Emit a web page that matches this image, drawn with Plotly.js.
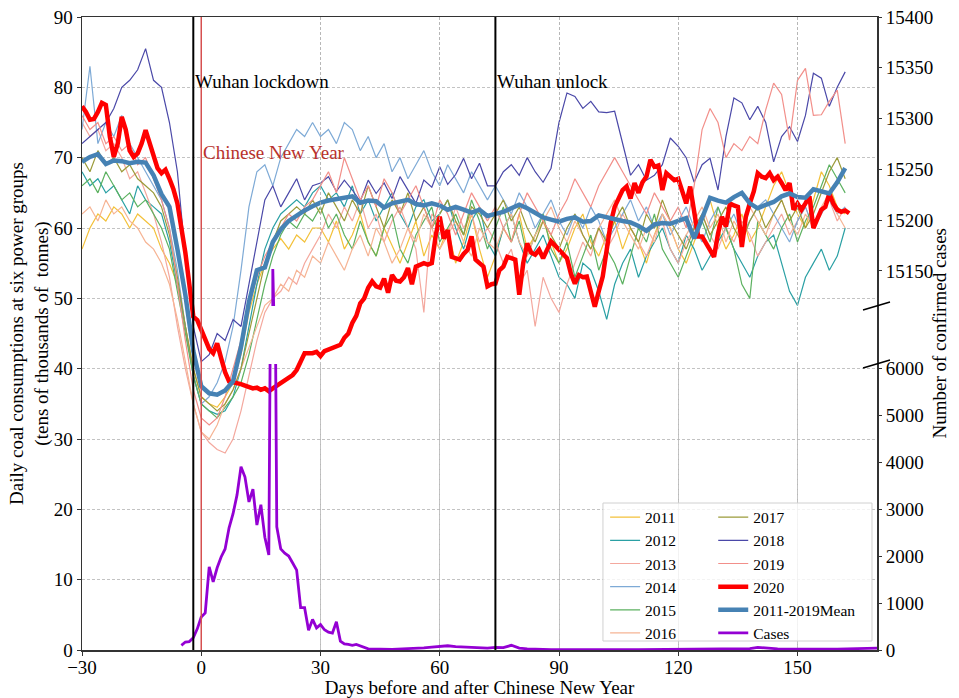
<!DOCTYPE html>
<html>
<head>
<meta charset="utf-8">
<script src="https://cdn.plot.ly/plotly-3.0.1.min.js"></script>
<style>html,body{margin:0;padding:0;background:#fff;}#chart{width:959px;height:698px;}</style>
</head>
<body>
<div id="chart"></div>
<script>
// ---------- DATA ----------
// x positions (days before/after Chinese New Year)
function range(a, b, s) { const r = []; for (let v = a; v <= b; v += s) r.push(v); return r; }
const yearDays = range(-30, 162, 2);
const days2020 = range(-30, 163, 1);

const y2011 = [57,60,62,61,63,62,60,62,61,60,57,55,52,46,40,
  36,35,34.5,36,38,42,48,52,55,57,58.5,57,59,58,60,
  60,58,61,57,59,62,58,56,60,57.5,55,58,61,56,59,57,60,55,58,62,57,53,
  56,60,58,62,57,59,61,58,55,57,60,62,58,56,59,61,57,60,58,55,59,62,60,57,55,58,61,64,60,57,59,62,58,60,63,66,68,65,62,60,64,68,66,63,62];
const y2012 = [68,66,67,65,66,64,62,66,64,63,62,58,52,46,39,
  35,34,33.5,34,36,40,46,52,57,60,62,63,64,63,65,
  66,64,65,63,66,62,64,61,63,65,62,60,63,64,61,62,64,60,57,61,63,58,
  56,60,62,58,55,57,59,56,53,52,50,55,54,51,47,52,55,57,53,56,58,60,57,55,59,57,54,56,58,60,57,55,53,56,58,59,55,51,49,53,55,57,54,56,60];
const y2013 = [75,73,74,71,72,70,67,68,65,62,58,53,46,40,35,
  31,29.5,28.5,28,30,34,39,44,48,50,51,53,52,55,57,
  59,62,60,63,61,64,60,62,58,61,63,60,57,48,62,61,59,63,60,62,58,60,
  58,55,57,52,54,46,53,50,48,52,55,58,56,60,57,59,62,60,58,56,59,61,57,55,58,60,62,59,57,60,58,61,59,56,58,60,62,59,61,63,60,62,64,61,63];
const y2014 = [74,83,72,75,73,76,72,70,68,66,64,60,54,46,39,
  35,36,38,41,46,54,63,68,69,66,70,72,74,73,75,
  73,74,72,75,74,71,73,70,72,68,70,67,69,71,68,66,69,67,65,68,66,64,
  66,64,62,65,63,60,62,64,61,59,62,60,63,61,58,60,62,64,61,63,60,62,59,61,63,60,58,61,63,60,62,59,61,63,64,62,60,58,61,63,60,62,64,62,63];
const y2015 = [66,67,65,68,66,64,65,63,64,62,60,57,51,45,39,
  35,34,33,34.5,36,38,42,47,52,56,59,61,60,62,61,
  63,60,62,59,57,61,58,56,60,62,57,55,59,61,63,58,60,62,59,64,61,57,
  60,63,58,61,56,59,62,57,55,58,53,56,59,54,57,55,52,56,60,58,62,57,55,53,56,59,61,58,63,60,57,52,50,61,59,57,60,62,58,61,63,66,69,67,65];
const y2016 = [62,63,61,64,62,63,61,60,58,57,55,52,47,41,35,
  31,30,32,35,37,40,43,46,49,50,52,51,54,53,56,
  55,58,56,54,57,59,56,60,58,55,57,60,58,62,60,57,59,61,58,56,60,58,
  57,60,62,58,56,59,61,63,60,58,61,59,57,60,62,64,61,59,57,60,58,62,60,57,59,61,63,60,62,58,61,59,63,61,59,62,64,61,59,62,60,63,65,62,60];
const y2017 = [70,68,71,69,70,68,69,67,66,65,63,59,53,46,40,
  36,35,34,35,37,40,45,50,55,58,61,62,63,62,64,
  62,65,63,61,64,62,66,63,60,64,62,65,61,63,60,62,64,61,59,63,62,60,
  62,64,61,63,60,58,61,59,57,60,62,59,57,60,58,61,63,60,58,62,60,64,61,59,57,60,62,59,61,63,60,58,61,63,60,62,64,61,63,60,62,65,68,70,67];
const y2018 = [72,73,74,75,77,80,81,82.5,85.5,81,80,75,68,56,46,
  41,42,45,44,47,46,52,58,64,66,63,65,67,64,66,
  66.4,67.3,65.2,66.8,65.4,63.8,66.8,64.9,66.4,64.2,67.3,65.4,63.5,66.8,65.8,68.7,66.2,67.6,69.9,67,69.2,66,
  66,68,69,67.5,70,68,66.5,68.5,75,79.2,78.7,77,78,76.5,76.4,76.6,72,67.5,69,66.8,67.5,69,72.8,71.6,70,66.5,69,69.9,65.4,73,78.5,77.8,75.4,77.3,75,69.4,73,74.4,72.3,76,82,81.3,77.3,80,82.2];
const y2019 = [76,74,75,72,73,71,72,69,70,67,64,60,52,44,37,
  33,32,33,36,40,44,49,53,56,58,60,62,61,63,64,
  66,68,65,70,67,64,66,63,67,65,62,64,66,63,60,64,62,59,62,65,63,61,
  63,60,58,62,65,63,61,59,62,64,67,65,63,66,68,70,68,66,64,62,65,63,61,63,60,66,74,77,75,70,72,71,73,72,76.8,80.6,79,72.5,81,82.7,76,76.1,78,79.6,72];
const yMean = [69.4,70.1,70.5,69.1,69.6,69.5,69.2,69.4,69.3,67.5,64.8,63,57,50.5,42.5,
  37.5,36.5,36.3,36.9,38.2,43.1,49.5,54,54.4,58,59.8,61,61.8,62.5,63.1,
  63.6,63.9,64.1,64.4,64.5,63.6,63.9,63.8,62.9,63.5,63.7,64,63.4,63.2,63.5,63.2,62.6,63,62.6,62.2,62.6,61.7,
  62,62.3,62.8,63.3,62.8,62.2,61.5,61.2,60.9,61.3,61.5,60.9,61,61.8,61.5,61.2,61,60.8,60.3,59.6,60.5,60.7,60.6,61,61.4,58.5,61.5,64.3,63.9,63.6,64.4,65,63.5,62.8,63.3,63.7,64.5,64.9,64.4,64.3,65.5,65.2,64.9,66.5,68.5];
const y2020 = [77.3,76.5,75.4,75.5,76.5,77.8,77.5,73,70.1,72,
  75.8,74,71,70.1,70.6,72,73.9,72,70.1,68.5,
  67.8,68.3,67,65.5,63.5,60.2,56.5,52,47.4,46.9,
  45.5,44.1,42.8,42.2,43.6,41.5,39.5,38.2,38.1,38,
  37.8,37.6,37.4,37.2,37.3,37,37.2,36.8,37.2,37.6,
  38,38.4,38.8,39.1,39.8,41,42.2,42.2,42.2,42.4,
  41.8,42.5,42.7,43,43.2,43.4,44.4,45,46.5,47.5,
  49.3,50,51.5,52.4,51.7,51.5,52.8,50.8,53.3,52.5,
  52.4,53,54.3,52,54.5,54.8,55,54.8,55,59,
  61.6,58.5,59.7,55.9,55.7,55.5,56.3,56.9,58.8,55.5,
  55,54.5,51.7,52,52.1,54,54.5,55.9,55.7,55.5,
  50.5,55,57.8,56.5,56.2,56.9,55.7,57,58.1,57.5,
  56.9,56.3,55.7,53.5,52.1,53.3,53,53.1,51,48.8,
  51,53.1,56.9,60.7,63,64.2,65.4,65.9,64.2,66.4,
  65,66.5,67.3,69.7,68.7,68.9,65.4,67.8,67.2,66.8,
  67,65.4,63.5,65.9,62.6,58.8,58.8,57.8,57,55.9,
  59.2,61.6,60.2,63.5,63.2,63,57.3,61.6,63.5,65.2,
  67.8,67.3,67.1,67.8,66.8,67.3,66.4,65.4,66.4,62.6,
  63.5,62.6,63.5,64.5,60,61.5,62.6,63,64.9,63.5,
  62.6,62.3,62.5,62.1];

// confirmed cases (right axis)
const caseDays = [-5,-4,-3,-2,-1,0,1,2,3,4,5,6,7,8,9,10,11,12,13,14,15,16,17,18,19,20,21,22,23,24,25,26,27,28,29,30,31,32,33,34,35,36,37,38,39,40,41,42,43,44,45,
  48,50,52,54,56,58,60,62,64,66,68,70,72,74,76,78,80,82,85,88,92,96,100,105,110,115,120,125,130,135,138,140,142,145,150,155,160,165,168,170];
const caseCounts = [100,170,180,260,450,700,790,1770,1450,1750,1980,2150,2600,2900,3300,3900,3680,3150,3420,2660,3090,2400,2020,15152,2620,2150,2060,2000,1850,1700,900,900,420,650,470,540,430,380,360,600,190,130,120,100,120,90,50,25,20,15,20,
  15,20,30,40,45,60,80,90,70,60,55,45,40,55,50,100,40,25,15,10,10,5,8,5,5,10,8,10,15,20,30,55,40,25,20,15,20,30,45,40];

const yearNames = ['2011','2012','2013','2014','2015','2016','2017','2018','2019'];
const yearSeries = [y2011,y2012,y2013,y2014,y2015,y2016,y2017,y2018,y2019];
const yearColors = ['#f3c13a','#2aa0a4','#f4a89e','#7eaad6','#5cb160','#f6b494','#9b9b3a','#4a48a8','#f28f8a'];

const events = [
  {day: -2, label: 'Wuhan lockdown', color: '#000000', width: 2, textY: 80.8, textColor: '#000000'},
  {day: 0, label: 'Chinese New Year', color: '#d65050', width: 1.5, textY: 70.7, textColor: '#b8322c'},
  {day: 74, label: 'Wuhan unlock', color: '#000000', width: 2, textY: 80.8, textColor: '#000000'}
];

// ---------- FIGURE ----------
const FONT = 'Liberation Serif, Times New Roman, serif';
const traces = [];
yearSeries.forEach((s, i) => {
  traces.push({x: yearDays, y: s, type: 'scatter', mode: 'lines', name: yearNames[i],
    line: {color: yearColors[i], width: 1.2}, legend: i < 6 ? 'legend' : 'legend2'});
});
traces.push({x: days2020, y: y2020, type: 'scatter', mode: 'lines', name: '2020',
  line: {color: '#ff0000', width: 4.5}, legend: 'legend2'});
traces.push({x: yearDays, y: yMean, type: 'scatter', mode: 'lines', name: '2011-2019Mean',
  line: {color: '#4682b4', width: 4.5}, legend: 'legend2'});
traces.push({x: caseDays, y: caseCounts, type: 'scatter', mode: 'lines', name: 'Cases', yaxis: 'y2',
  line: {color: '#9400d3', width: 2.8}, legend: 'legend2'});
traces.push({x: caseDays, y: caseCounts, type: 'scatter', mode: 'lines', name: 'Cases', yaxis: 'y3',
  line: {color: '#9400d3', width: 2.8}, showlegend: false});

const shapes = events.map(e => ({type: 'line', xref: 'x', yref: 'paper', x0: e.day, x1: e.day, y0: 0, y1: 1,
  line: {color: e.color, width: e.width}}));
// axis break marks
shapes.push({type: 'line', xref: 'paper', yref: 'y3 domain', x0: 1 - 14/795, x1: 1 + 13/795, y0: -4/289, y1: 4/289, line: {color: '#000', width: 1.5}});
shapes.push({type: 'line', xref: 'paper', yref: 'y2 domain', x0: 1 - 14/795, x1: 1 + 13/795, y0: 1 - 4/286, y1: 1 + 4/286, line: {color: '#000', width: 1.5}});
// legend frame
shapes.push({type: 'rect', xref: 'paper', yref: 'paper', x0: 0.6553, x1: 0.9937, y0: 0.0142, y1: 0.2322,
  fillcolor: 'rgba(255,255,255,0.8)', line: {color: '#d0d0d0', width: 1}, layer: 'above'});

const annotations = events.map(e => ({x: e.day, y: e.textY, xref: 'x', yref: 'y', text: e.label, showarrow: false,
  xanchor: 'left', yanchor: 'middle', xshift: 0, font: {family: FONT, size: 19, color: e.textColor}}));
annotations.push({xref: 'paper', yref: 'paper', x: 1.078, y: 0.5, text: 'Number of confirmed cases', textangle: -90,
  showarrow: false, xanchor: 'center', yanchor: 'middle', font: {family: FONT, size: 19, color: '#000'}});

const gridStyle = {showgrid: true, gridcolor: '#b4b4b4', gridwidth: 0.8, griddash: '3px,2px'};
const layout = {
  width: 959, height: 698,
  margin: {l: 82, r: 82, t: 17, b: 48},
  paper_bgcolor: '#ffffff', plot_bgcolor: 'rgba(0,0,0,0)',
  font: {family: FONT, size: 18, color: '#000'},
  showlegend: true,
  xaxis: Object.assign({range: [-30, 170], tickmode: 'array', tickvals: [-30,0,30,60,90,120,150],
    ticks: 'outside', ticklen: 4, tickcolor: '#333', showline: true, linecolor: '#333', linewidth: 1.5, mirror: true,
    zeroline: false, anchor: 'y', tickfont: {size: 19}, ticklabelstandoff: -4,
    title: {text: 'Days before and after Chinese New Year', font: {size: 19}, standoff: 2}}, gridStyle),
  yaxis: Object.assign({range: [0, 90], domain: [0, 1], tickmode: 'array', tickvals: [0,10,20,30,40,50,60,70,80,90],
    ticks: 'outside', ticklen: 4, tickcolor: '#333', showline: true, linecolor: '#333', linewidth: 1.5, mirror: true,
    zeroline: false, tickfont: {size: 19},
    title: {text: 'Daily coal consumptions at six power groups<br>(tens of thousands of  tonnes)', font: {size: 19}, standoff: 0}}, gridStyle),
  yaxis2: {domain: [0, 0.4518], range: [0, 6085], anchor: 'x', side: 'right', tickmode: 'array',
    tickvals: [0,1000,2000,3000,4000,5000,6000], ticks: 'outside', ticklen: 4, tickcolor: '#333', tickformat: 'd',
    showgrid: false, zeroline: false, showline: false, tickfont: {size: 19}},
  yaxis3: {domain: [0.5434, 1], range: [15115.5, 15400], anchor: 'x', side: 'right', tickmode: 'array',
    tickvals: [15150,15200,15250,15300,15350,15400], ticks: 'outside', ticklen: 4, tickcolor: '#333', tickformat: 'd',
    showgrid: false, zeroline: false, showline: false, tickfont: {size: 19}},
  legend: {x: 0.658, y: 0.236, xanchor: 'left', yanchor: 'top', bgcolor: 'rgba(0,0,0,0)', borderwidth: 0,
    font: {family: FONT, size: 15.5}, tracegroupgap: 0},
  legend2: {x: 0.794, y: 0.236, xanchor: 'left', yanchor: 'top', bgcolor: 'rgba(0,0,0,0)', borderwidth: 0,
    font: {family: FONT, size: 15.5}, tracegroupgap: 0},
  shapes: shapes,
  annotations: annotations
};
Plotly.newPlot('chart', traces, layout, {displayModeBar: false, staticPlot: true});
</script>
</body>
</html>
